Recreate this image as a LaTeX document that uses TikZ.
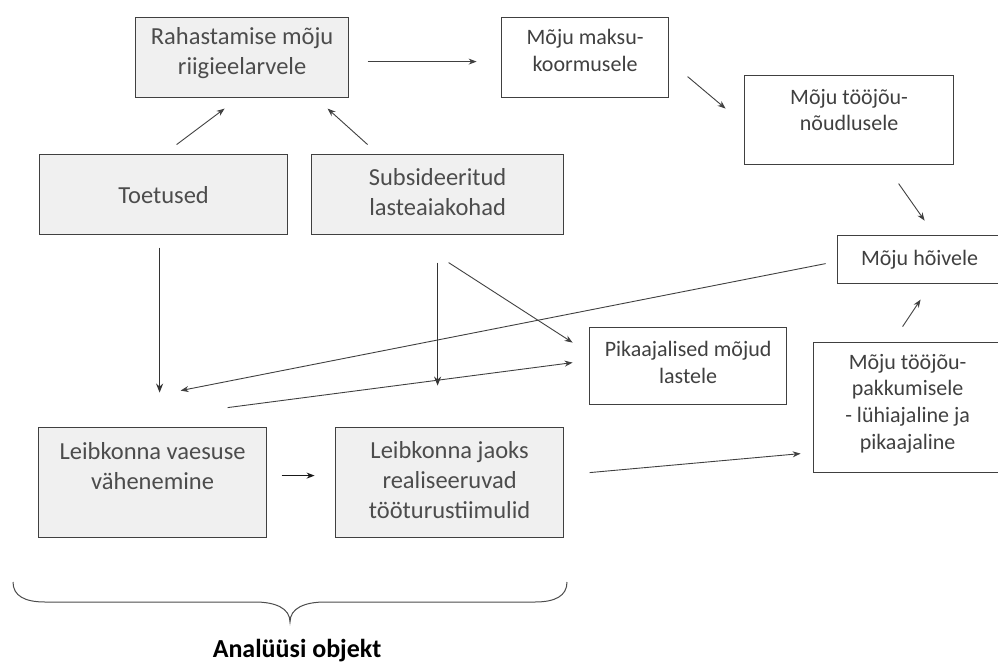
\documentclass[tikz,border=0pt]{standalone}
\usepackage{fontspec}
\setmainfont{Carlito}
\usetikzlibrary{arrows.meta,calc}
\newcommand\boxtxt[4]{\parbox[c][#2][c]{#1}{\centering #4\par\vspace*{#3}}}
\newcommand\gfont{\fontsize{24.5}{30}\selectfont\color{black!70}}
\newcommand\wfont{\fontsize{22}{26.8}\selectfont\color{black!75}}
\begin{document}
\begin{tikzpicture}[x=1pt,y=-1pt,
  bx/.style={draw=black!75, line width=1.2pt, inner sep=0pt, anchor=north west, fill=white},
  gbx/.style={bx, fill=black!6},
  arr/.style={draw=black!75, line width=0.9pt, -{Stealth[length=8pt,width=6pt]}},
  thickarr/.style={draw=black!80, line width=1.6pt, -{Stealth[length=9pt,width=7pt]}},
  bracestyle/.style={draw=black!70, line width=1pt}]
\useasboundingbox (0,0) rectangle (998,666);

% boxes
\node[gbx] (rah) at (135,17) {\boxtxt{213pt}{80pt}{8pt}{\gfont Rahastamise mõju\\riigieelarvele}};
\node[gbx] (toe) at (39,154) {\boxtxt{248pt}{80pt}{0pt}{\gfont Toetused}};
\node[gbx] (sub) at (311,154) {\boxtxt{252pt}{80pt}{6pt}{\gfont Subsideeritud\\lasteaiakohad}};
\node[bx] (maks) at (501,17) {\boxtxt{167pt}{80pt}{14pt}{\wfont Mõju maksu-\\koormusele}};
\node[bx] (tnd) at (744,75) {\boxtxt{209pt}{89pt}{20pt}{\wfont Mõju tööjõu-\\nõudlusele}};
\node[bx] (hoi) at (837,235) {\boxtxt{164pt}{48pt}{0pt}{\wfont Mõju hõivele}};
\node[bx] (pik) at (589,327) {\boxtxt{197pt}{77pt}{8pt}{\wfont Pikaajalised mõjud\\lastele}};
\node[bx] (pak) at (813,342) {\boxtxt{188pt}{130pt}{8pt}{\wfont Mõju tööjõu-\\pakkumisele\\- lühiajaline ja\\pikaajaline}};
\node[gbx] (lv) at (38,427) {\boxtxt{228pt}{110pt}{34pt}{\gfont Leibkonna vaesuse\\vähenemine}};
\node[gbx] (lj) at (335,427) {\boxtxt{228pt}{110pt}{6pt}{\gfont Leibkonna jaoks\\realiseeruvad\\tööturustiimulid}};

% connectors
\draw[arr] ([shift={(125.5,4)}]rah.center) -- ([shift={(-108.5,4)}]maks.center);
\draw[arr] ([shift={(13,-50)}]toe.center) -- ([shift={(-17.5,51)}]rah.center);
\draw[arr] ([shift={(-70,-50)}]sub.center) -- ([shift={(85.5,51)}]rah.center);
\draw[arr] ([shift={(102.5,19)}]maks.center) -- ([shift={(-123.5,-11.5)}]tnd.center);
\draw[arr] ([shift={(49.5,63.5)}]tnd.center) -- ([shift={(5,-39)}]hoi.center);
\draw[arr] ([shift={(-94,4)}]hoi.center) -- ([shift={(28,-92)}]lv.center);
\draw[thickarr] ([shift={(-4,53)}]toe.center) -- ([shift={(7,-90)}]lv.center);
\draw[thickarr] ([shift={(0,68)}]sub.center) -- ([shift={(-12,-97)}]lj.center);
\draw[arr] ([shift={(11,68)}]sub.center) -- ([shift={(-115.5,-23.5)}]pik.center);
\draw[arr] ([shift={(75,-75)}]lv.center) -- ([shift={(-115.5,-3.5)}]pik.center);
\draw[arr, draw=black!90, line width=1.2pt] ([shift={(129,-7)}]lv.center) -- ([shift={(-135,-7)}]lj.center);
\draw[arr] ([shift={(140,-10)}]lj.center) -- ([shift={(-107,46)}]pak.center);
\draw[arr] ([shift={(-5,-81)}]pak.center) -- ([shift={(1,40)}]hoi.center);

% brace
\draw[bracestyle] (13,582) .. controls (13,596) and (25,602) .. (45,602) -- (255,602)
  .. controls (275,602) and (290,608) .. (290,622)
  .. controls (290,608) and (305,602) .. (325,602) -- (535,602)
  .. controls (555,602) and (567,596) .. (567,582);
\node[anchor=base, inner sep=0pt, font=\bfseries\fontsize{26}{31}\selectfont] (obj) at (297,657) {Analüüsi objekt};
\end{tikzpicture}
\end{document}
